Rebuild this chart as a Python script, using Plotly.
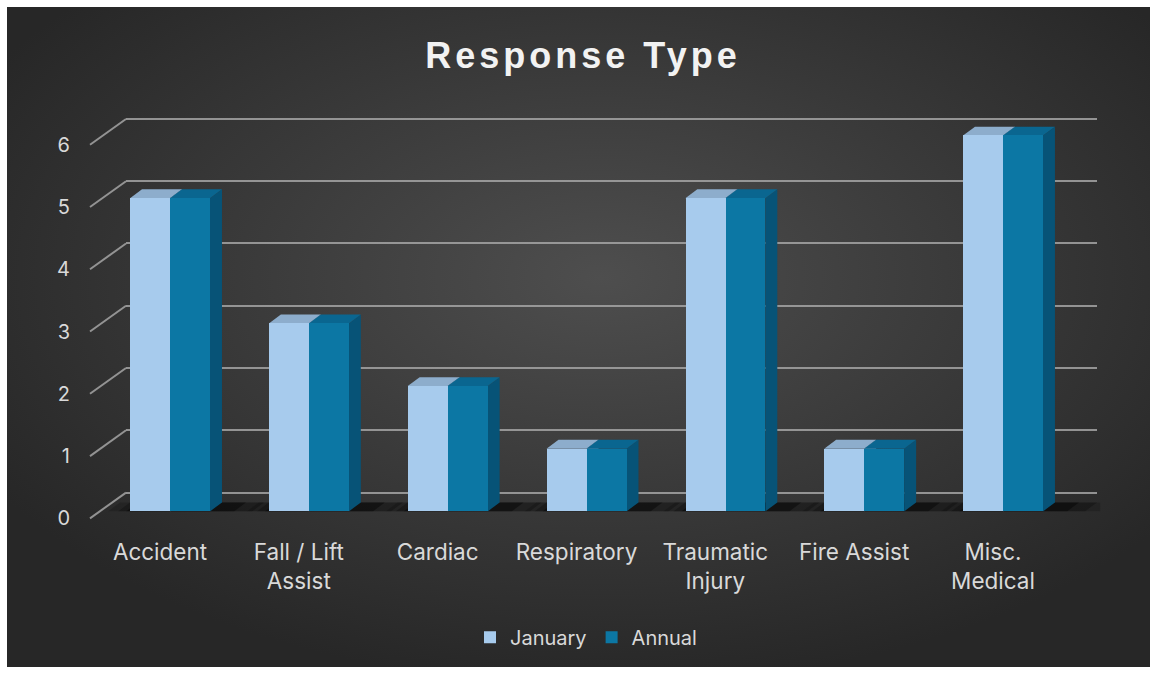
import base64
import plotly.graph_objects as go

# ---------------- data ----------------
categories = ["Accident", "Fall / Lift<br>Assist", "Cardiac", "Respiratory",
              "Traumatic<br>Injury", "Fire Assist", "Misc.<br>Medical"]
january = [5, 3, 2, 1, 5, 1, 6]
annual = [5, 3, 2, 1, 5, 1, 6]
y_ticks = [0, 1, 2, 3, 4, 5, 6]
series_names = ["January", "Annual"]

# ---------------- geometry / styling ----------------
W, H = 1150, 673
OFF = 0      # page body margin (set to 0 below)
EDGE = 7     # white strip at top / left of the chart image

def fx(px):
    return (px - OFF) / W

def fy(py):
    return 1 - (py - OFF) / H

CAT_PX = 138.83          # pixels per category
X0_PX = 170              # pixel of first pair centre
XR = [-0.7, 6.7]
BAR_Y0, BAR_PPU = 516, 63.2       # bar plane
BACK_Y0, BACK_PPU = 497, 62.83    # back wall
FRONT_Y0, FRONT_PPU = 523, 62.83  # front edge (tick labels)
BACK_X = (126, 1097)
FRONT_X = 90
DEPTH_X, DEPTH_Y = 12, 9          # bar depth in px

pairw = 0.576
bw = pairw / 2
dxu = DEPTH_X / CAT_PX
dyu = DEPTH_Y / BAR_PPU

front_cols = ["#A7CBED", "#0C77A4"]
top_cols = ["#8DADCC", "#0A6690"]
side_cols = ["#7E9FC0", "#075377"]
grid_col = "rgba(165,165,165,0.85)"
txt_col = "#D9D9D9"
FONT = "Inter"


def xdomain(lo, hi, shift=0):
    return [fx(X0_PX + lo * CAT_PX + shift), fx(X0_PX + hi * CAT_PX + shift)]


def ydomain(y0, ppu, lo, hi):
    return [fy(y0 - lo * ppu), fy(y0 - hi * ppu)]


fig = go.Figure()

# dummy traces so that the grid / label subplots exist
fig.add_trace(go.Scatter(x=[None], y=[None], xaxis="x", yaxis="y",
                         showlegend=False, hoverinfo="skip"))

# bars (front faces)
vals = [january, annual]
idx = list(range(len(categories)))
for s, name in enumerate(series_names):
    fig.add_trace(go.Bar(
        x=idx, y=vals[s], name=name, width=bw, offset=-pairw / 2 + s * bw,
        marker=dict(color=front_cols[s], line=dict(width=0)),
        xaxis="x2", yaxis="y2", hoverinfo="skip"))

fig.add_trace(go.Scatter(x=[None], y=[None], xaxis="x3", yaxis="y3",
                         showlegend=False, hoverinfo="skip"))

shapes = []
# floor shadows
for i in idx:
    left = i - pairw / 2
    right = i + pairw / 2
    for (lp, rp, op) in [(22, 60, 0.18), (12, 42, 0.25), (4, 24, 0.4)]:
        l = left - lp / CAT_PX
        r = right + rp / CAT_PX
        shapes.append(dict(type="path", xref="x2", yref="y2", layer="between",
                           path=f"M{l},0 L{r},0 L{r+dxu},{dyu} L{l+dxu},{dyu} Z",
                           fillcolor="black", opacity=op, line=dict(width=0)))
# 3D faces
for s in range(2):
    for i in idx:
        v = vals[s][i]
        xl = i - pairw / 2 + s * bw
        xr = xl + bw
        shapes.append(dict(type="path", xref="x2", yref="y2", layer="between",
                           path=f"M{xr},0 L{xr},{v} L{xr+dxu},{v+dyu} L{xr+dxu},{dyu} Z",
                           fillcolor=side_cols[s], line=dict(width=0)))
for s in range(2):
    for i in idx:
        v = vals[s][i]
        xl = i - pairw / 2 + s * bw
        xr = xl + bw
        shapes.append(dict(type="path", xref="x2", yref="y2", layer="between",
                           path=f"M{xl},{v} L{xr},{v} L{xr+dxu},{v+dyu} L{xl+dxu},{v+dyu} Z",
                           fillcolor=top_cols[s], line=dict(width=0)))
# diagonal connectors of gridlines
back_off = (FRONT_Y0 - BACK_Y0) / FRONT_PPU
for t in y_ticks:
    shapes.append(dict(type="line", xref="paper", yref="y3",
                       x0=fx(FRONT_X), y0=t, x1=fx(BACK_X[0]), y1=t + back_off,
                       line=dict(color=grid_col, width=2)))

# background radial gradient
svg = ('<svg xmlns="http://www.w3.org/2000/svg" width="1143" height="666">'
       '<defs><radialGradient id="g" cx="52%" cy="41%" r="62%">'
       '<stop offset="0" stop-color="#4E4E4E"/><stop offset="1" stop-color="#272727"/>'
       '</radialGradient></defs><rect width="100%" height="100%" fill="url(#g)"/></svg>')
src = "data:image/svg+xml;base64," + base64.b64encode(svg.encode()).decode()

fig.update_layout(
    width=W, height=H, margin=dict(l=0, r=0, t=0, b=0),
    paper_bgcolor="white", plot_bgcolor="rgba(0,0,0,0)",
    images=[dict(source=src, xref="paper", yref="paper", x=fx(EDGE), y=fy(EDGE),
                 sizex=1 - fx(EDGE), sizey=fy(EDGE), xanchor="left", yanchor="top",
                 sizing="stretch", layer="below")],
    shapes=shapes,
    showlegend=True,
    legend=dict(orientation="h", x=fx(586), y=fy(643), xanchor="center", yanchor="middle",
                font=dict(family=FONT, size=20, color=txt_col), bgcolor="rgba(0,0,0,0)",
                itemclick=False, traceorder="normal"),
    title=dict(text='<span style="letter-spacing:4px"><b>Response Type</b></span>',
               x=fx(583), y=fy(55), xanchor="center", yanchor="middle",
               font=dict(family="Liberation Sans", size=36, color="#F2F2F2")),
    # back wall grid
    xaxis=dict(domain=[fx(BACK_X[0]), fx(BACK_X[1])], range=[0, 1], visible=False,
               fixedrange=True),
    yaxis=dict(domain=ydomain(BACK_Y0, BACK_PPU, -0.1, 6.1), range=[-0.1, 6.1],
               tickvals=y_ticks, showticklabels=False, showgrid=True, gridcolor=grid_col,
               gridwidth=2, zeroline=False, showline=False, ticks="", fixedrange=True),
    # bars
    xaxis2=dict(domain=xdomain(XR[0], XR[1]), range=XR, visible=False, fixedrange=True),
    yaxis2=dict(domain=ydomain(BAR_Y0, BAR_PPU, 0, 6.5), range=[0, 6.5], visible=False,
                fixedrange=True),
    # labels
    xaxis3=dict(domain=xdomain(XR[0], XR[1], -10), range=XR, anchor="free",
                position=fy(541), tickvals=idx, ticktext=categories, showgrid=False,
                zeroline=False, showline=False, ticks="",
                tickfont=dict(family=FONT, size=22.5, color=txt_col), fixedrange=True),
    yaxis3=dict(domain=ydomain(FRONT_Y0, FRONT_PPU, -0.1, 6.7), range=[-0.1, 6.7],
                anchor="free", position=fx(70), tickvals=y_ticks, showgrid=False,
                zeroline=False, showline=False, ticks="",
                tickfont=dict(family=FONT, size=20, color=txt_col), fixedrange=True),
    bargap=0, barmode="overlay",
)

fig.write_html(
    "out.html", config={"displayModeBar": False},
    post_script=("document.body.style.margin='0';document.body.style.overflow='hidden';"
                 "document.body.style.background='#282828';"
                 "document.documentElement.style.background='#282828';"))
